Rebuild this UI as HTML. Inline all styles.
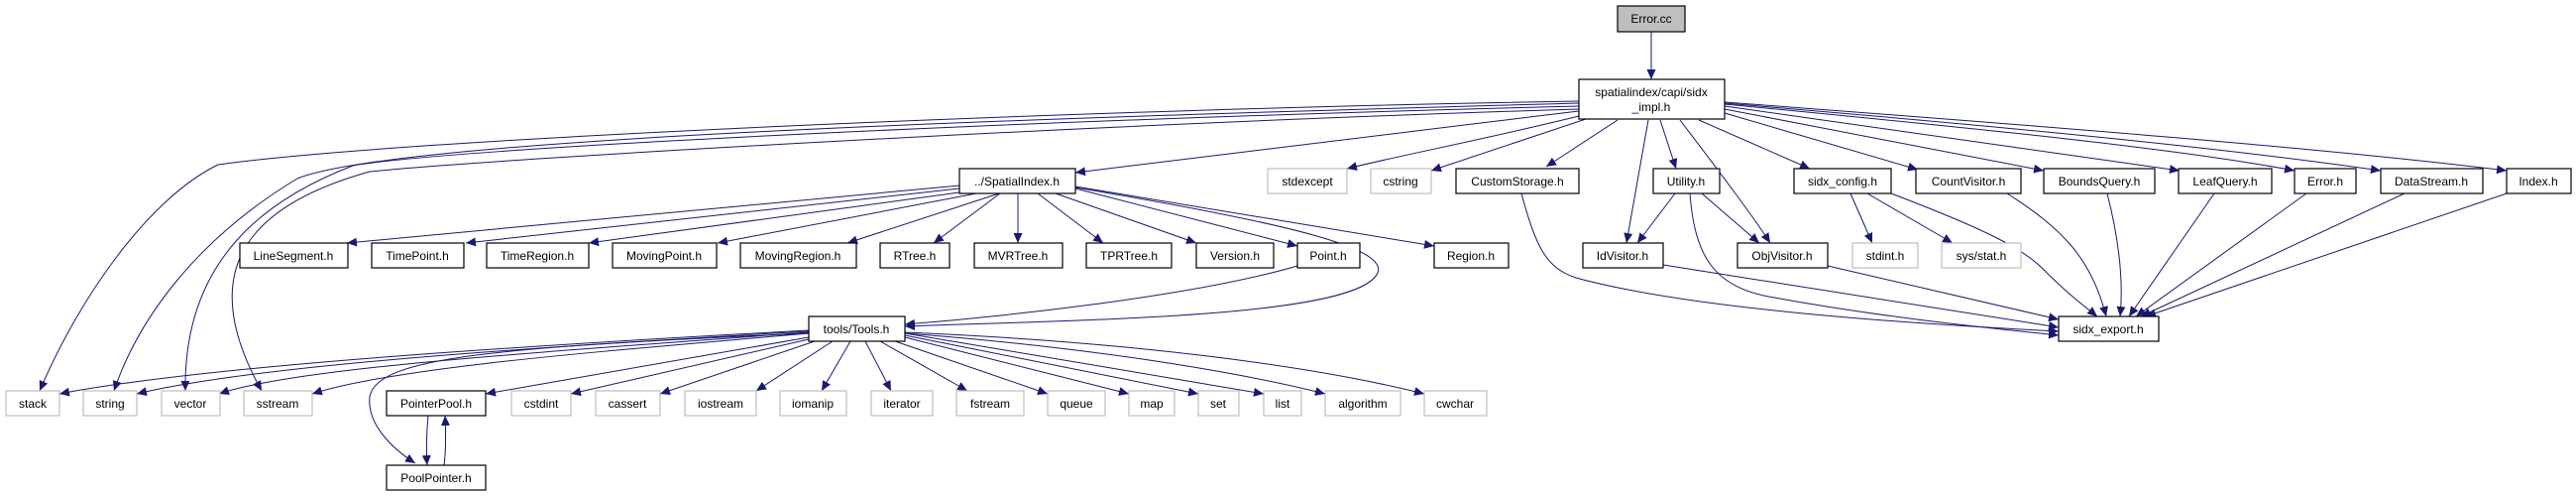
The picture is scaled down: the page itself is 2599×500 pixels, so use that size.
<!DOCTYPE html>
<html><head><meta charset="utf-8"><style>
html,body{margin:0;padding:0;background:#fff}
svg{display:block}
text{font-family:"Liberation Sans",sans-serif;font-size:12px;fill:#000}
.n rect{fill:#fff;stroke:#000;stroke-width:1.2}
.g rect{fill:#fff;stroke:#bfbfbf;stroke-width:1.2}
path.e{fill:none;stroke:#191970;stroke-width:1}
</style></head><body>
<svg width="2599" height="500" viewBox="0 0 2599 500" xmlns="http://www.w3.org/2000/svg">
<defs><marker id="a" markerUnits="userSpaceOnUse" markerWidth="11" markerHeight="9" refX="10" refY="4.5" orient="auto"><path d="M0,0 L10,4.5 L0,9 z" fill="#191970"/></marker></defs>
<g marker-end="url(#a)">
<path class="e" d="M1666,32 L1666,80"/>
<path class="e" d="M1593,102 C1100,110 400,140 220,166 C150,200 80,300 40,394"/>
<path class="e" d="M1593,104 C1000,120 400,140 300,180 C200,240 140,320 115,394"/>
<path class="e" d="M1593,107 C1000,122 450,150 356,167 C270,200 185,260 187,394"/>
<path class="e" d="M1593,110 C1100,125 500,160 373,173 C240,210 200,280 264,394"/>
<path class="e" d="M1593,112 C1400,135 1200,160 1085,174"/>
<path class="e" d="M1593,117 C1500,140 1420,155 1359,170"/>
<path class="e" d="M1600,120 C1540,140 1480,160 1444,172"/>
<path class="e" d="M1632,121 L1560,168"/>
<path class="e" d="M1663,121 L1641,245"/>
<path class="e" d="M1675,121 L1691,170"/>
<path class="e" d="M1695,121 C1740,180 1770,220 1786,245"/>
<path class="e" d="M1714,121 L1826,170"/>
<path class="e" d="M1740,114 L1935,171"/>
<path class="e" d="M1740,110 L2062,172"/>
<path class="e" d="M1740,107 L2199,172"/>
<path class="e" d="M1740,105 C2000,130 2200,150 2315,172"/>
<path class="e" d="M1740,104 C2050,130 2250,150 2402,172"/>
<path class="e" d="M1740,103 C2100,130 2350,150 2529,172"/>
<path class="e" d="M968,187 L350,245"/>
<path class="e" d="M968,190 L470,245"/>
<path class="e" d="M975,193 L594,245"/>
<path class="e" d="M985,195 L724,245"/>
<path class="e" d="M1008,195 L855,245"/>
<path class="e" d="M1009,195 L942,245"/>
<path class="e" d="M1027,195 L1027,245"/>
<path class="e" d="M1047,195 L1113,245"/>
<path class="e" d="M1065,195 L1207,245"/>
<path class="e" d="M1085,190 L1309,248"/>
<path class="e" d="M1085,188 L1447,248"/>
<path class="e" d="M1085,189 C1300,225 1400,250 1390,275 C1370,320 1100,322 913,329"/>
<path class="e" d="M1309,268 C1200,300 1000,320 913,327"/>
<path class="e" d="M816,333 C500,350 200,370 60,397"/>
<path class="e" d="M816,334 C500,352 250,370 138,397"/>
<path class="e" d="M816,335 C550,355 300,370 221,397"/>
<path class="e" d="M816,336 C600,355 400,370 315,397"/>
<path class="e" d="M816,340 L490,397"/>
<path class="e" d="M816,336 C500,350 380,360 373,400 C370,430 400,455 419,467"/>
<path class="e" d="M816,342 L576,397"/>
<path class="e" d="M822,344 L666,397"/>
<path class="e" d="M840,344 L763,394"/>
<path class="e" d="M858,344 L829,394"/>
<path class="e" d="M873,344 L899,394"/>
<path class="e" d="M888,344 L976,394"/>
<path class="e" d="M903,344 L1057,397"/>
<path class="e" d="M913,340 L1139,397"/>
<path class="e" d="M913,338 L1209,397"/>
<path class="e" d="M913,336 L1275,397"/>
<path class="e" d="M913,336 C1100,350 1250,375 1337,397"/>
<path class="e" d="M913,335 C1150,345 1330,370 1437,397"/>
<path class="e" d="M432,419 C430,440 430,455 431,469"/>
<path class="e" d="M448,469 C450,455 450,440 449,419"/>
<path class="e" d="M1690,195 L1652,245"/>
<path class="e" d="M1717,195 L1775,245"/>
<path class="e" d="M1705,195 C1710,260 1730,290 1790,300 C1900,320 2000,330 2077,338"/>
<path class="e" d="M1678,267 L2077,330"/>
<path class="e" d="M1844,268 L2077,322"/>
<path class="e" d="M1535,195 C1550,250 1560,270 1590,280 C1700,310 1900,325 2077,334"/>
<path class="e" d="M1867,195 L1889,245"/>
<path class="e" d="M1884,195 L1970,245"/>
<path class="e" d="M1908,195 C2000,230 2040,250 2060,270 C2090,300 2105,310 2116,319"/>
<path class="e" d="M2025,195 C2080,230 2110,260 2125,319"/>
<path class="e" d="M2126,195 C2140,250 2142,290 2139,319"/>
<path class="e" d="M2234,195 L2148,319"/>
<path class="e" d="M2327,195 L2155,319"/>
<path class="e" d="M2426,195 L2160,319"/>
<path class="e" d="M2529,195 L2165,319"/>
</g>
<g text-anchor="middle">
<g class="n"><rect x="1632" y="6" width="68" height="26" style="fill:#bfbfbf"/><text x="1666" y="23">Error.cc</text></g>
<g class="n"><rect x="1593" y="80" width="147" height="40"/><text x="1666" y="97">spatialindex/capi/sidx</text><text x="1666" y="112">_impl.h</text></g>
<g class="n"><rect x="968" y="170" width="117" height="25"/><text x="1026" y="187">../SpatialIndex.h</text></g>
<g class="g"><rect x="1279" y="170" width="80" height="25"/><text x="1319" y="187">stdexcept</text></g>
<g class="g"><rect x="1383" y="170" width="61" height="25"/><text x="1413" y="187">cstring</text></g>
<g class="n"><rect x="1469" y="170" width="124" height="25"/><text x="1531" y="187">CustomStorage.h</text></g>
<g class="n"><rect x="1668" y="170" width="67" height="25"/><text x="1701" y="187">Utility.h</text></g>
<g class="n"><rect x="1810" y="170" width="98" height="25"/><text x="1859" y="187">sidx_config.h</text></g>
<g class="n"><rect x="1933" y="170" width="106" height="25"/><text x="1986" y="187">CountVisitor.h</text></g>
<g class="n"><rect x="2062" y="170" width="112" height="25"/><text x="2118" y="187">BoundsQuery.h</text></g>
<g class="n"><rect x="2198" y="170" width="94" height="25"/><text x="2245" y="187">LeafQuery.h</text></g>
<g class="n"><rect x="2315" y="170" width="62" height="25"/><text x="2346" y="187">Error.h</text></g>
<g class="n"><rect x="2402" y="170" width="103" height="25"/><text x="2453" y="187">DataStream.h</text></g>
<g class="n"><rect x="2529" y="170" width="65" height="25"/><text x="2561" y="187">Index.h</text></g>
<g class="n"><rect x="242" y="245" width="109" height="25"/><text x="296" y="262">LineSegment.h</text></g>
<g class="n"><rect x="375" y="245" width="93" height="25"/><text x="421" y="262">TimePoint.h</text></g>
<g class="n"><rect x="491" y="245" width="103" height="25"/><text x="542" y="262">TimeRegion.h</text></g>
<g class="n"><rect x="618" y="245" width="105" height="25"/><text x="670" y="262">MovingPoint.h</text></g>
<g class="n"><rect x="747" y="245" width="117" height="25"/><text x="805" y="262">MovingRegion.h</text></g>
<g class="n"><rect x="888" y="245" width="70" height="25"/><text x="923" y="262">RTree.h</text></g>
<g class="n"><rect x="983" y="245" width="89" height="25"/><text x="1027" y="262">MVRTree.h</text></g>
<g class="n"><rect x="1096" y="245" width="86" height="25"/><text x="1139" y="262">TPRTree.h</text></g>
<g class="n"><rect x="1207" y="245" width="78" height="25"/><text x="1246" y="262">Version.h</text></g>
<g class="n"><rect x="1309" y="245" width="63" height="25"/><text x="1340" y="262">Point.h</text></g>
<g class="n"><rect x="1447" y="245" width="75" height="25"/><text x="1484" y="262">Region.h</text></g>
<g class="n"><rect x="1597" y="245" width="81" height="25"/><text x="1637" y="262">IdVisitor.h</text></g>
<g class="n"><rect x="1753" y="245" width="91" height="25"/><text x="1798" y="262">ObjVisitor.h</text></g>
<g class="g"><rect x="1869" y="245" width="66" height="25"/><text x="1902" y="262">stdint.h</text></g>
<g class="g"><rect x="1959" y="245" width="80" height="25"/><text x="1999" y="262">sys/stat.h</text></g>
<g class="n"><rect x="816" y="319" width="97" height="25"/><text x="864" y="336">tools/Tools.h</text></g>
<g class="n"><rect x="2077" y="319" width="101" height="25"/><text x="2127" y="336">sidx_export.h</text></g>
<g class="g"><rect x="6" y="394" width="54" height="25"/><text x="33" y="411">stack</text></g>
<g class="g"><rect x="84" y="394" width="54" height="25"/><text x="111" y="411">string</text></g>
<g class="g"><rect x="163" y="394" width="59" height="25"/><text x="192" y="411">vector</text></g>
<g class="g"><rect x="246" y="394" width="69" height="25"/><text x="280" y="411">sstream</text></g>
<g class="n"><rect x="390" y="394" width="100" height="25"/><text x="440" y="411">PointerPool.h</text></g>
<g class="g"><rect x="516" y="394" width="60" height="25"/><text x="546" y="411">cstdint</text></g>
<g class="g"><rect x="601" y="394" width="65" height="25"/><text x="633" y="411">cassert</text></g>
<g class="g"><rect x="691" y="394" width="72" height="25"/><text x="727" y="411">iostream</text></g>
<g class="g"><rect x="787" y="394" width="67" height="25"/><text x="820" y="411">iomanip</text></g>
<g class="g"><rect x="879" y="394" width="62" height="25"/><text x="910" y="411">iterator</text></g>
<g class="g"><rect x="965" y="394" width="68" height="25"/><text x="999" y="411">fstream</text></g>
<g class="g"><rect x="1057" y="394" width="58" height="25"/><text x="1086" y="411">queue</text></g>
<g class="g"><rect x="1139" y="394" width="46" height="25"/><text x="1162" y="411">map</text></g>
<g class="g"><rect x="1209" y="394" width="41" height="25"/><text x="1229" y="411">set</text></g>
<g class="g"><rect x="1275" y="394" width="38" height="25"/><text x="1294" y="411">list</text></g>
<g class="g"><rect x="1337" y="394" width="76" height="25"/><text x="1375" y="411">algorithm</text></g>
<g class="g"><rect x="1437" y="394" width="63" height="25"/><text x="1468" y="411">cwchar</text></g>
<g class="n"><rect x="390" y="469" width="100" height="25"/><text x="440" y="486">PoolPointer.h</text></g>
</g>
</svg>
</body></html>
